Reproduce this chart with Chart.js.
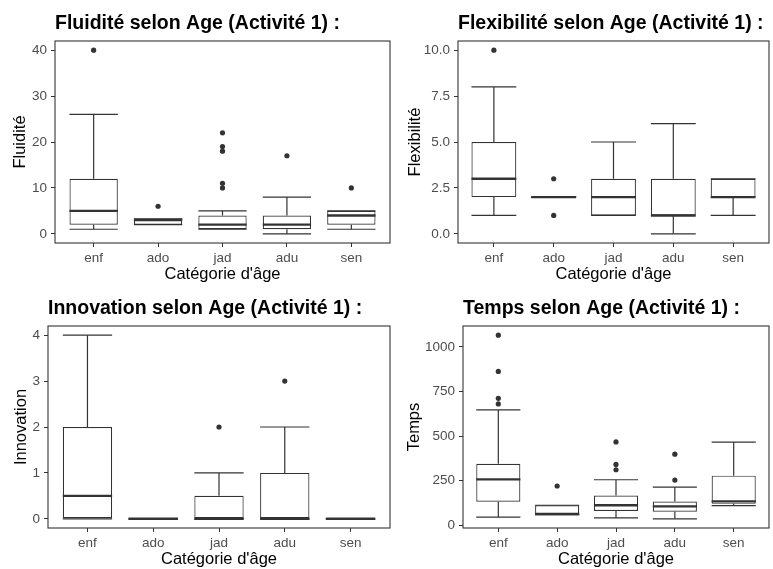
<!DOCTYPE html>
<html>
<head>
<meta charset="utf-8">
<title>Boxplots selon Age (Activité 1)</title>
<script src="https://cdn.jsdelivr.net/npm/chart.js@4.4.1/dist/chart.umd.min.js"></script>
<style>
  html, body { margin: 0; padding: 0; background: #fff; }
  #wrap { position: relative; width: 773px; height: 569px; overflow: hidden; }
  #wrap canvas { position: absolute; }
</style>
</head>
<body>
<div id="wrap">
  <canvas id="flu" width="394" height="285" style="left:0;top:0"></canvas>
  <canvas id="flex" width="379" height="285" style="left:394px;top:0"></canvas>
  <canvas id="inno" width="394" height="285" style="left:0;top:285px"></canvas>
  <canvas id="temps" width="379" height="285" style="left:394px;top:285px"></canvas>
</div>
<script>
const categories = ['enf', 'ado', 'jad', 'adu', 'sen'];

// Fluidité
const fluLow  = [1, 2, 1, 0, 1];
const fluQ1   = [2, 2, 1, 1, 2];
const fluMed  = [5, 3, 2, 2, 4];
const fluQ3   = [12, 3.25, 4, 4, 5];
const fluHigh = [26, 3.25, 5, 8, 5];
const fluOut  = [[40], [6], [10, 11, 18, 19, 22], [17], [10]];
const fluTicks = [0, 10, 20, 30, 40];
const fluTickLabels = ['0', '10', '20', '30', '40'];

// Flexibilité
const flexLow  = [1, 2, 1, 0, 1];
const flexQ1   = [2, 2, 1, 1, 2];
const flexMed  = [3, 2, 2, 1, 2];
const flexQ3   = [5, 2, 3, 3, 3];
const flexHigh = [8, 2, 5, 6, 3];
const flexOut  = [[10], [1, 3], [], [], []];
const flexTicks = [0, 2.5, 5, 7.5, 10];
const flexTickLabels = ['0.0', '2.5', '5.0', '7.5', '10.0'];

// Innovation
const innoLow  = [0, 0, 0, 0, 0];
const innoQ1   = [0, 0, 0, 0, 0];
const innoMed  = [0.5, 0, 0, 0, 0];
const innoQ3   = [2, 0, 0.5, 1, 0];
const innoHigh = [4, 0, 1, 2, 0];
const innoOut  = [[], [], [2], [3], []];
const innoTicks = [0, 1, 2, 3, 4];
const innoTickLabels = ['0', '1', '2', '3', '4'];

// Temps
const tpsLow  = [46, 60, 41, 36, 110];
const tpsQ1   = [132, 61, 80, 76, 120];
const tpsMed  = [257, 63, 112, 106, 134];
const tpsQ3   = [344, 112, 166, 133, 278];
const tpsHigh = [646, 112, 255, 214, 466];
const tpsOut  = [[680, 711, 862, 1065], [220], [311, 341, 467], [253, 398], []];
const tpsTicks = [0, 250, 500, 750, 1000];
const tpsTickLabels = ['0', '250', '500', '750', '1000'];

const FONT = '"Liberation Sans", Arial, Helvetica, sans-serif';
const INK = '#333333';

// small plugin: the grey20 border all round the panel
const panelBorder = {
  id: 'panelBorder',
  afterDraw(chart) {
    const a = chart.chartArea;
    const ctx = chart.ctx;
    ctx.save();
    ctx.strokeStyle = INK;
    ctx.lineWidth = 1.1;
    ctx.strokeRect(a.left, a.top, a.right - a.left, a.bottom - a.top);
    ctx.restore();
  }
};

function halfBox(chart) {
  const x = chart.scales.x;
  return x.getPixelForValue(0.375) - x.getPixelForValue(0);
}

function boxplot(id, p) {
  const whiskers = [], caps = [], boxes = [], medians = [], outliers = [];
  categories.forEach((c, i) => {
    whiskers.push({x: i, y: p.low[i]}, {x: i, y: p.q1[i]}, {x: i, y: null},
                  {x: i, y: p.q3[i]}, {x: i, y: p.high[i]}, {x: i, y: null});
    caps.push({x: i, y: p.low[i]}, {x: i, y: p.high[i]});
    boxes.push({x: i, y: [p.q1[i], p.q3[i]]});
    medians.push({x: i, y: p.med[i]});
    p.out[i].forEach(v => outliers.push({x: i, y: v}));
  });

  const all = p.low.concat(p.high, ...p.out);
  const lo = Math.min(...all), hi = Math.max(...all);
  const pad = (hi - lo) * 0.05;

  new Chart(document.getElementById(id), {
    type: 'scatter',
    data: {
      datasets: [
        { type: 'scatter', data: outliers, order: 0,
          pointRadius: 2.6, backgroundColor: INK, borderWidth: 0 },
        { type: 'scatter', data: medians, order: 1,
          pointStyle: 'line', radius: ctx => halfBox(ctx.chart),
          borderColor: INK, borderWidth: 2.4 },
        { type: 'bar', data: boxes, order: 2,
          backgroundColor: '#ffffff', borderColor: INK, borderWidth: 1.2,
          borderSkipped: false, barPercentage: 1, categoryPercentage: 0.75 },
        { type: 'scatter', data: caps, order: 3,
          pointStyle: 'line', radius: ctx => halfBox(ctx.chart),
          borderColor: INK, borderWidth: 1.2 },
        { type: 'line', data: whiskers, order: 4,
          borderColor: INK, borderWidth: 1.2, pointRadius: 0, spanGaps: false }
      ]
    },
    options: {
      responsive: false,
      animation: false,
      events: [],
      layout: { padding: { left: 0, top: 0, right: p.padRight, bottom: 0 } },
      plugins: {
        legend: { display: false },
        tooltip: { enabled: false },
        title: {
          display: true, text: p.title, align: 'start', fullSize: false,
          color: '#000', font: { family: FONT, size: 19.5, weight: 'bold' },
          padding: { top: 11.5, bottom: 6.1 }
        }
      },
      scales: {
        x: {
          type: 'linear', min: -0.6, max: 4.6, offset: false,
          afterBuildTicks: s => { s.ticks = categories.map((c, i) => ({ value: i })); },
          afterFit: s => { s.height = 42; },
          ticks: {
            callback: v => categories[Math.round(v)],
            color: '#4D4D4D', font: { family: FONT, size: 13.5 }, padding: 3.5,
            maxRotation: 0, autoSkip: false
          },
          grid: { offset: false, drawOnChartArea: false, drawTicks: true, tickLength: 4, color: INK },
          border: { display: false },
          title: {
            display: true, text: "Catégorie d'âge", color: '#000',
            font: { family: FONT, size: 16.5 }, padding: { top: 0, bottom: 0.8 }
          }
        },
        y: {
          type: 'linear', min: lo - pad, max: hi + pad,
          afterBuildTicks: s => { s.ticks = p.ticks.map(v => ({ value: v })); },
          afterFit: s => { s.width = p.yWidth; },
          ticks: {
            callback: (v, i) => p.tickLabels[i],
            color: '#4D4D4D', font: { family: FONT, size: 13.5 }, padding: 4,
            autoSkip: false
          },
          grid: { offset: false, drawOnChartArea: false, drawTicks: true, tickLength: 4, color: INK },
          border: { display: false },
          title: {
            display: true, text: p.yTitle, color: '#000',
            font: { family: FONT, size: 16.5 }, padding: { top: p.yTitlePad, bottom: 0 }
          }
        }
      }
    },
    plugins: [panelBorder]
  });
}

boxplot('flu', {
  title: 'Fluidité selon Age (Activité 1) :', yTitle: 'Fluidité',
  low: fluLow, q1: fluQ1, med: fluMed, q3: fluQ3, high: fluHigh, out: fluOut,
  ticks: fluTicks, tickLabels: fluTickLabels,
  yWidth: 55, padRight: 2, yTitlePad: 11
});
boxplot('flex', {
  title: 'Flexibilité selon Age (Activité 1) :', yTitle: 'Flexibilité',
  low: flexLow, q1: flexQ1, med: flexMed, q3: flexQ3, high: flexHigh, out: flexOut,
  ticks: flexTicks, tickLabels: flexTickLabels,
  yWidth: 64, padRight: 1, yTitlePad: 12
});
boxplot('inno', {
  title: 'Innovation selon Age (Activité 1) :', yTitle: 'Innovation',
  low: innoLow, q1: innoQ1, med: innoMed, q3: innoQ3, high: innoHigh, out: innoOut,
  ticks: innoTicks, tickLabels: innoTickLabels,
  yWidth: 48, padRight: 2, yTitlePad: 11.4
});
boxplot('temps', {
  title: 'Temps selon Age (Activité 1) :', yTitle: 'Temps',
  low: tpsLow, q1: tpsQ1, med: tpsMed, q3: tpsQ3, high: tpsHigh, out: tpsOut,
  ticks: tpsTicks, tickLabels: tpsTickLabels,
  yWidth: 69, padRight: 1, yTitlePad: 10.5
});
</script>
</body>
</html>
